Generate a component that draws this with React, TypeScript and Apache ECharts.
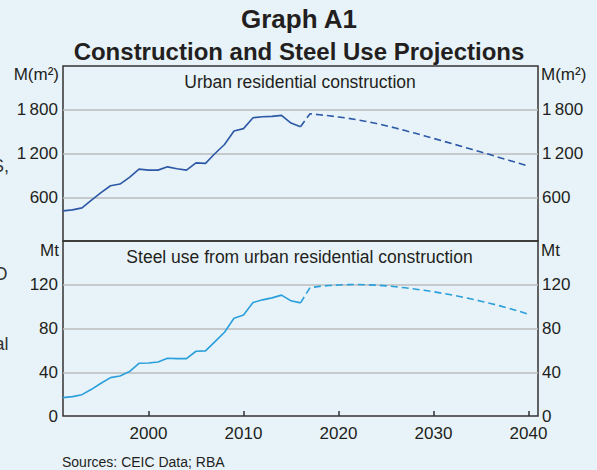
import React, { useEffect, useRef } from "react";
import * as echarts from "echarts";

const histYears = [1991, 1992, 1993, 1994, 1995, 1996, 1997, 1998, 1999, 2000, 2001, 2002, 2003, 2004, 2005, 2006, 2007, 2008, 2009, 2010, 2011, 2012, 2013, 2014, 2015, 2016];
const floorSpace = [413, 427, 454, 560, 663, 758, 781, 873, 986, 972, 972, 1017, 990, 972, 1072, 1064, 1200, 1323, 1509, 1541, 1691, 1705, 1709, 1723, 1618, 1568];
const steelUse = [16.8, 17.7, 19.5, 24.4, 29.9, 35.1, 36.6, 40.6, 48.2, 48.5, 49.4, 52.8, 52.5, 52.5, 59.2, 59.5, 68, 76.6, 89.4, 92.4, 103.7, 106.2, 108, 110.5, 105.3, 103.4];

const projYears = [2016, 2017, 2018, 2019, 2020, 2021, 2022, 2023, 2024, 2025, 2026, 2027, 2028, 2029, 2030, 2031, 2032, 2033, 2034, 2035, 2036, 2037, 2038, 2039, 2040];
const floorSpaceProj = [1568, 1745, 1732, 1717, 1701, 1683, 1661, 1637, 1611, 1581, 1549, 1515, 1480, 1444, 1407, 1370, 1333, 1296, 1258, 1220, 1182, 1143, 1105, 1066, 1027];
const steelUseProj = [103.4, 117.4, 118.5, 119.3, 119.8, 120.1, 120.2, 120.0, 119.6, 119.0, 118.2, 117.2, 116.1, 114.9, 113.6, 112.1, 110.5, 108.8, 107.0, 105.0, 102.9, 100.7, 98.3, 95.8, 93.0];

const xTicks = [2000, 2010, 2020, 2030, 2040];
const topTicks = [0, 600, 1200, 1800, 2400];
const bottomTicks = [0, 40, 80, 120, 160];

const FONT = "'Liberation Sans', Arial, Helvetica, sans-serif";
const TEXT = "#231f20";
const DARK_BLUE = "#2c58a6";
const LIGHT_BLUE = "#2a9fdb";
const BG = "#e8f3f9";

function pairs(xs: number[], ys: number[]) {
  return xs.map((x, i) => [x, ys[i]]);
}

function fmtTop(v: number) {
  if (v === topTicks[0] || v === topTicks[topTicks.length - 1]) return "";
  return v >= 1000 ? `${Math.floor(v / 1000)}\u2009${String(v % 1000).padStart(3, "0")}` : String(v);
}
function fmtBottom(v: number) {
  if (v === bottomTicks[bottomTicks.length - 1]) return "";
  return String(v);
}

export default function App() {
  const ref = useRef<HTMLDivElement>(null);
  useEffect(() => {
    if (!ref.current) return;
    const chart = echarts.init(ref.current, null, { renderer: "svg" });
    const gridCommon = {
      left: 63,
      right: 59,
      height: 175,
      show: true,
      borderColor: "#333",
      borderWidth: 1.5,
      backgroundColor: "transparent",
    };
    const labelStyle = { fontSize: 17, color: TEXT, fontFamily: FONT };
    const splitLine = {
      show: true,
      showMinLine: false,
      showMaxLine: false,
      lineStyle: { color: "#bdbdbd", width: 1.5 },
    };
    const yBase = (gridIndex: number, position: string, min: number, max: number, interval: number, fmt: (v: number) => string, split: boolean) => ({
      type: "value",
      gridIndex,
      position,
      min,
      max,
      interval,
      axisLine: { show: false },
      axisTick: { show: false },
      axisLabel: { ...labelStyle, margin: position === "left" ? 5 : 4, formatter: fmt },
      splitLine: split ? splitLine : { show: false },
    });
    const unit = (text: string, x: number, y: number, align: string) => ({
      type: "text",
      x,
      y,
      style: { text, fontSize: 17, fontFamily: FONT, fill: TEXT, align, verticalAlign: "middle" },
    });
    const frag = (text: string, x: number, y: number) => ({
      type: "text",
      x,
      y,
      style: { text, fontSize: 18, fontFamily: FONT, fill: "#333", align: "right", verticalAlign: "middle" },
    });
    chart.setOption({
      animation: false,
      backgroundColor: BG,
      grid: [
        { ...gridCommon, top: 66 },
        { ...gridCommon, top: 241 },
      ],
      xAxis: [
        {
          type: "value",
          gridIndex: 0,
          min: 1991,
          max: 2041,
          show: false,
          splitLine: { show: false },
        },
        {
          type: "value",
          gridIndex: 1,
          min: 1991,
          max: 2041,
          axisLine: { show: false },
          axisTick: {
            show: true,
            inside: true,
            length: 5,
            customValues: xTicks,
            lineStyle: { color: "#333", width: 1.5 },
          },
          axisLabel: { ...labelStyle, margin: 9, customValues: xTicks, formatter: (v: number) => String(v) },
          splitLine: { show: false },
        },
      ],
      yAxis: [
        yBase(0, "left", topTicks[0], topTicks[topTicks.length - 1], 600, fmtTop, true),
        yBase(0, "right", topTicks[0], topTicks[topTicks.length - 1], 600, fmtTop, false),
        yBase(1, "left", bottomTicks[0], bottomTicks[bottomTicks.length - 1], 40, fmtBottom, true),
        yBase(1, "right", bottomTicks[0], bottomTicks[bottomTicks.length - 1], 40, fmtBottom, false),
      ],
      series: [
        {
          type: "line",
          xAxisIndex: 0,
          yAxisIndex: 0,
          data: pairs(histYears, floorSpace),
          showSymbol: false,
          lineStyle: { color: DARK_BLUE, width: 1.6 },
        },
        {
          type: "line",
          xAxisIndex: 0,
          yAxisIndex: 0,
          data: pairs(projYears, floorSpaceProj),
          showSymbol: false,
          lineStyle: { color: DARK_BLUE, width: 1.6, type: [7, 4] },
        },
        {
          type: "line",
          xAxisIndex: 1,
          yAxisIndex: 2,
          data: pairs(histYears, steelUse),
          showSymbol: false,
          lineStyle: { color: LIGHT_BLUE, width: 1.6 },
        },
        {
          type: "line",
          xAxisIndex: 1,
          yAxisIndex: 2,
          data: pairs(projYears, steelUseProj),
          showSymbol: false,
          lineStyle: { color: LIGHT_BLUE, width: 1.6, type: [7, 4] },
        },
      ],
      graphic: [
        {
          type: "text",
          x: 299,
          y: 18.5,
          style: { text: "Graph A1", fontSize: 26, fontWeight: "bold", fontFamily: FONT, fill: TEXT, align: "center", verticalAlign: "middle" },
        },
        {
          type: "text",
          x: 299,
          y: 51,
          style: { text: "Construction and Steel Use Projections", fontSize: 24, fontWeight: "bold", fontFamily: FONT, fill: TEXT, align: "center", verticalAlign: "middle" },
        },
        {
          type: "text",
          x: 300,
          y: 81.5,
          style: { text: "Urban residential construction", fontSize: 17.5, fontFamily: FONT, fill: TEXT, align: "center", verticalAlign: "middle" },
        },
        {
          type: "text",
          x: 299.5,
          y: 256.5,
          style: { text: "Steel use from urban residential construction", fontSize: 17.5, fontFamily: FONT, fill: TEXT, align: "center", verticalAlign: "middle" },
        },
        unit("M(m²)", 59, 74, "right"),
        unit("M(m²)", 541, 74, "left"),
        unit("Mt", 59, 250.5, "right"),
        unit("Mt", 541, 250.5, "left"),
        {
          type: "text",
          x: 62,
          y: 462,
          style: { text: "Sources: CEIC Data; RBA", fontSize: 14, fontFamily: FONT, fill: TEXT, align: "left", verticalAlign: "middle" },
        },
        frag("S,", 9, 166),
        frag("O", 7.5, 274),
        frag("al", 8.5, 344),
      ],
    });
    return () => chart.dispose();
  }, []);
  return <div ref={ref} style={{ position: "fixed", left: 0, top: 0, width: 597, height: 470 }} />;
}
